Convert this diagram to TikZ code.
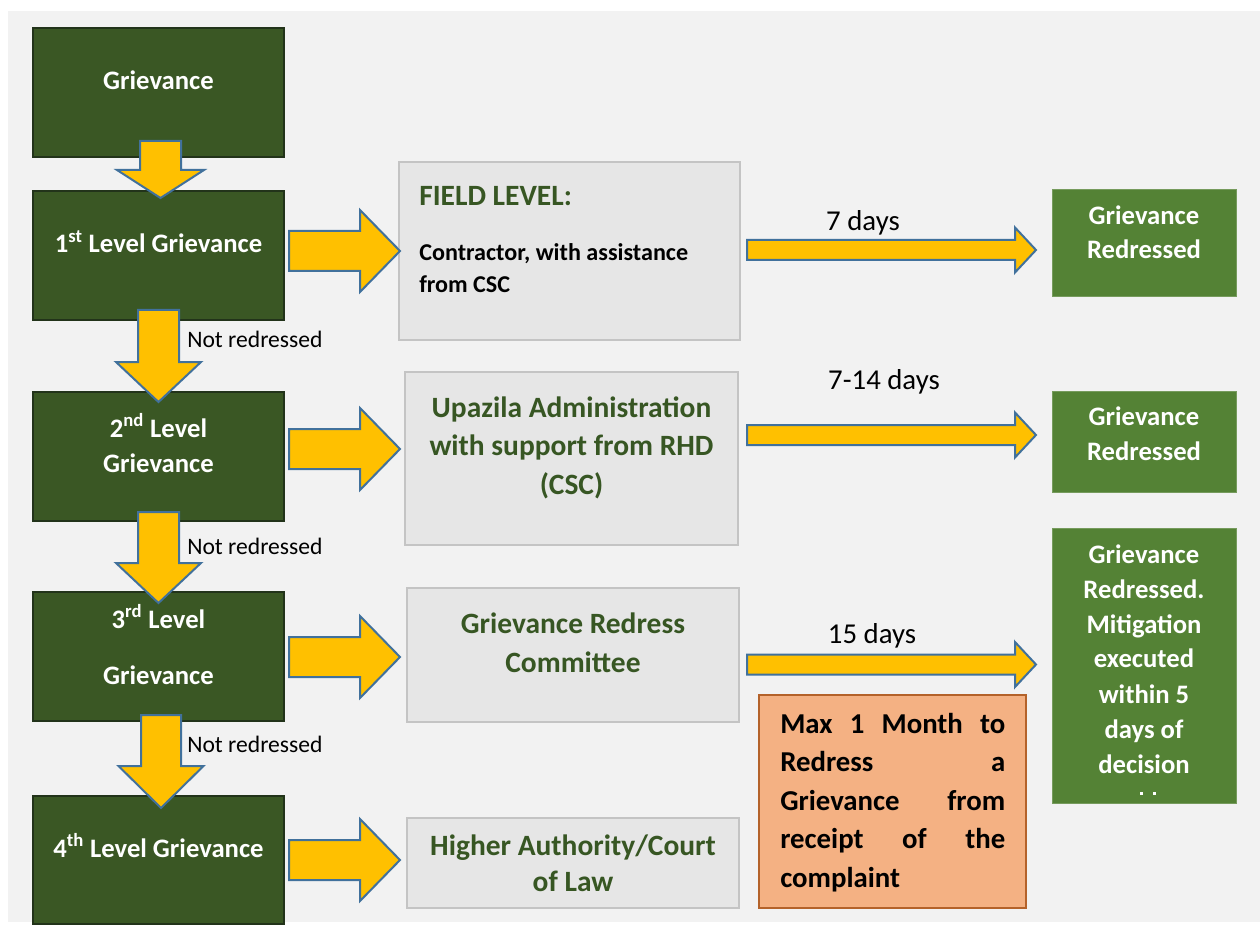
\documentclass[tikz,border=0pt]{standalone}
\usepackage{fontspec}
\setmainfont{Carlito}
\definecolor{bgc}{HTML}{F2F2F2}
\definecolor{dkg}{HTML}{3A5724}
\definecolor{dkgline}{HTML}{22331A}
\definecolor{mdg}{HTML}{548235}
\definecolor{gtxt}{HTML}{375623}
\definecolor{gbox}{HTML}{E6E6E6}
\definecolor{gline}{HTML}{C4C4C4}
\definecolor{yel}{HTML}{FFC000}
\definecolor{arrline}{HTML}{41719C}
\definecolor{orf}{HTML}{F4B183}
\definecolor{orl}{HTML}{B4622A}
\newcommand{\boxat}[6]{\node[#2, anchor=north west, minimum width={(#5-#3)*0.75pt}, minimum height={(#6-#4)*0.75pt}] (#1) at (#3,#4) {};}
\newcommand{\darr}[7]{\draw[blockarr] (#2-#6,#3) -- (#2+#6,#3) -- (#2+#6,#4) -- (#2+#7,#4) -- (#2,#5) -- (#2-#7,#4) -- (#2-#6,#4) -- cycle; \coordinate (#1) at (#2,#5);}
\newcommand{\rarr}[7]{\draw[blockarr] (#2,#5-#6) -- (#3,#5-#6) -- (#3,#5-#7) -- (#4,#5) -- (#3,#5+#7) -- (#3,#5+#6) -- (#2,#5+#6) -- cycle; \coordinate (#1) at (#4,#5);}
\newcommand{\tline}[4][]{\node[anchor=base, inner sep=0pt, #1] (#2) at (#3) {#4};}
\begin{document}
\begin{tikzpicture}[x=0.75pt,y=-0.75pt,
  dkbox/.style={draw=dkgline, fill=dkg, line width=0.8pt, inner sep=0pt, outer sep=0pt},
  grbox/.style={draw=gline, fill=gbox, line width=0.8pt, inner sep=0pt, outer sep=0pt},
  mgbox/.style={draw=mdg!80!white, fill=mdg, line width=0.6pt, inner sep=0pt, outer sep=0pt},
  orbox/.style={draw=orl, fill=orf, line width=0.9pt, inner sep=0pt, outer sep=0pt},
  blockarr/.style={fill=yel, draw=arrline, line width=1.5pt, line join=miter},
  wtxt/.style={text=white, font=\fontsize{20}{24}\selectfont\bfseries},
  htxt/.style={text=gtxt, font=\fontsize{22.1}{26}\selectfont\bfseries},
  ctxt/.style={text=black, font=\fontsize{18.1}{22}\selectfont\bfseries},
  nrtxt/.style={text=black, font=\fontsize{17.7}{21}\selectfont},
  dtxt/.style={text=black, font=\fontsize{21.6}{26}\selectfont},
  otxt/.style={text=black, font=\fontsize{21.6}{26}\selectfont\bfseries, anchor=base west}
]
\useasboundingbox (0,0) rectangle (1260,927);
\fill[white] (0,0) rectangle (1260,927);
\fill[bgc] (8,11) rectangle (1260,922);

% left column
\boxat{g0}{dkbox}{33}{28}{284}{157}
\boxat{g1}{dkbox}{33}{191}{284}{320}
\boxat{g2}{dkbox}{33}{392}{284}{521}
\boxat{g3}{dkbox}{33}{592}{284}{721}
\boxat{g4}{dkbox}{33}{796}{284}{924}

% middle boxes
\boxat{m1}{grbox}{399}{162}{740}{340}
\boxat{m2}{grbox}{405}{372}{738}{545}
\boxat{m3}{grbox}{407}{588}{739}{722}
\boxat{m4}{grbox}{407}{818}{739}{908}

% right boxes
\boxat{r1}{mgbox}{1052}{189}{1236}{296}
\boxat{r2}{mgbox}{1052}{391}{1236}{492}
\boxat{r3}{mgbox}{1052}{528}{1236}{803}
\boxat{ob}{orbox}{759}{695}{1026}{908}

% down arrows
\darr{d1}{160.5}{141}{170}{198}{20.5}{43.5}
\darr{d2}{158.5}{310}{362}{402}{20.5}{42.5}
\darr{d3}{158.5}{512}{563}{603}{20.5}{42.5}
\darr{d4}{161}{715}{766}{808}{20}{42.5}

% short right arrows
\rarr{s1}{289}{360}{400}{251}{20}{41}
\rarr{s2}{289}{360}{400}{449}{20}{41}
\rarr{s3}{289}{360}{400}{657}{20}{41}
\rarr{s4}{289}{360}{400}{860}{20}{41}

% long arrows
\rarr{l1}{747}{1015}{1036}{250}{10}{22.5}
\rarr{l2}{747}{1015}{1036}{435}{10}{22.5}
\rarr{l3}{747}{1015}{1036}{664.5}{10}{22.5}

% left column texts
\tline[wtxt]{t0}{158.5,90}{Grievance}
\tline[wtxt]{t1}{158.5,253}{1\textsuperscript{st} Level Grievance}
\tline[wtxt]{t2a}{158.5,437}{2\textsuperscript{nd} Level}
\tline[wtxt]{t2b}{158.5,472}{Grievance}
\tline[wtxt]{t3a}{158.5,628}{3\textsuperscript{rd} Level}
\tline[wtxt]{t3b}{158.5,684}{Grievance}
\tline[wtxt]{t4}{158.5,857}{4\textsuperscript{th} Level Grievance}

% not redressed
\tline[nrtxt, anchor=base west]{n1}{187,348}{Not redressed}
\tline[nrtxt, anchor=base west]{n2}{187,554}{Not redressed}
\tline[nrtxt, anchor=base west]{n3}{187,752}{Not redressed}

% middle texts
\tline[htxt, anchor=base west]{m1a}{419,206}{FIELD LEVEL:}
\tline[ctxt, anchor=base west]{m1b}{419,261}{Contractor, with assistance}
\tline[ctxt, anchor=base west]{m1c}{419,293}{from CSC}
\tline[htxt]{m2a}{571.5,417}{Upazila Administration}
\tline[htxt]{m2b}{571.5,455}{with support from RHD}
\tline[htxt]{m2c}{571.5,494}{(CSC)}
\tline[htxt]{m3a}{573,633}{Grievance Redress}
\tline[htxt]{m3b}{573,672}{Committee}
\tline[htxt]{m4a}{573,855}{Higher Authority/Court}
\tline[htxt]{m4b}{573,891}{of Law}

% day labels
\tline[dtxt]{dl1}{863,231}{7 days}
\tline[dtxt]{dl2}{884,389}{7-14 days}
\tline[dtxt]{dl3}{872,643}{15 days}

% right texts
\tline[wtxt]{r1a}{1144,225}{Grievance}
\tline[wtxt]{r1b}{1144,259}{Redressed}
\tline[wtxt]{r2a}{1144,425}{Grievance}
\tline[wtxt]{r2b}{1144,460}{Redressed}
\tline[wtxt]{r3a}{1144,563}{Grievance}
\tline[wtxt]{r3b}{1144,598}{Redressed.}
\tline[wtxt]{r3c}{1144,633}{Mitigation}
\tline[wtxt]{r3d}{1144,667}{executed}
\tline[wtxt]{r3e}{1144,703}{within 5}
\tline[wtxt]{r3f}{1144,738}{days of}
\tline[wtxt]{r3g}{1144,773}{decision}
\fill[white] (1139.5,792) rectangle (1142.5,795);
\fill[white] (1152.5,792) rectangle (1155.5,795);

% orange text
\tline[otxt]{o1}{780,733}{\makebox[168.75pt][l]{Max\hfill 1\hfill Month\hfill to}}
\tline[otxt]{o2}{780,771}{\makebox[168.75pt][l]{Redress\hfill a}}
\tline[otxt]{o3}{780,810}{\makebox[168.75pt][l]{Grievance\hfill from}}
\tline[otxt]{o4}{780,848}{\makebox[168.75pt][l]{receipt\hfill of\hfill the}}
\tline[otxt]{o5}{780,887}{complaint}
\end{tikzpicture}
\end{document}
